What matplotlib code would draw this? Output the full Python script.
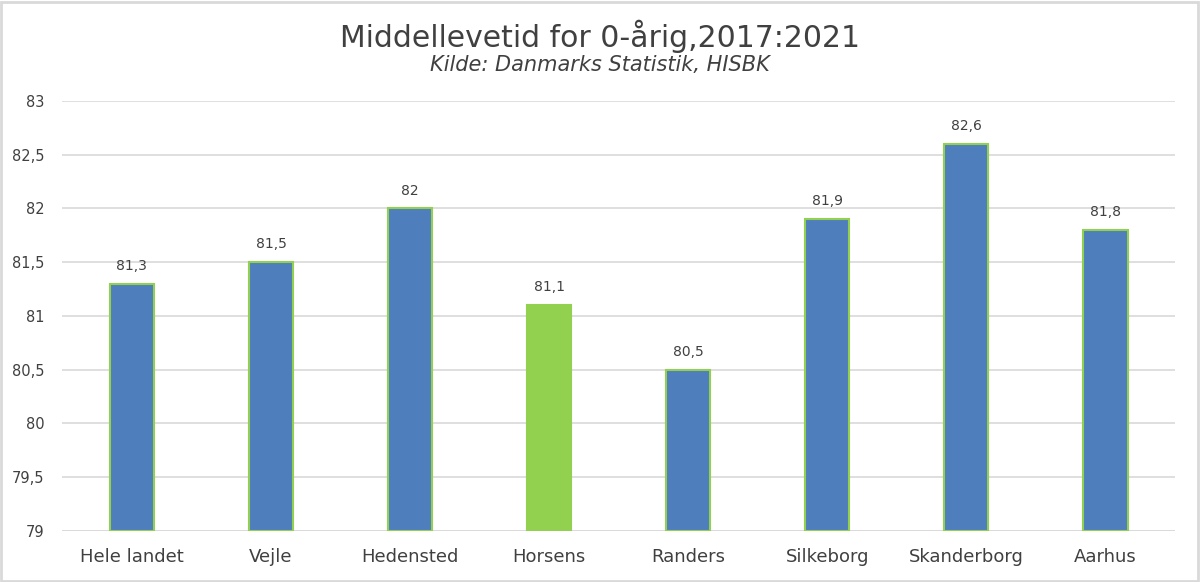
import numpy as np
import matplotlib
matplotlib.use("Agg")
import matplotlib.pyplot as plt
from matplotlib.patches import Rectangle

# data
kommuner = ["Hele landet", "Vejle", "Hedensted", "Horsens", "Randers",
            "Silkeborg", "Skanderborg", "Aarhus"]
levetid = [81.3, 81.5, 82.0, 81.1, 80.5, 81.9, 82.6, 81.8]
yticks = [79, 79.5, 80, 80.5, 81, 81.5, 82, 82.5, 83]

blue = "#4F7EBD"
green = "#92D050"
txt = "#404040"

fig = plt.figure(figsize=(12, 5.82), dpi=100)
ax = fig.add_axes([0.052, 0.0876, 0.927, 0.739])

x = np.arange(len(kommuner))
colors = [green if k == "Horsens" else blue for k in kommuner]
bars = ax.bar(x, [v - 79 for v in levetid], bottom=79, width=0.32,
              color=colors, edgecolor=green, linewidth=1.5, zorder=3)

for xi, v in zip(x, levetid):
    lab = ("%g" % v).replace(".", ",")
    ax.text(xi, v + 0.1, lab, ha="center", va="bottom", fontsize=10, color=txt)

ax.set_xlim(-0.5, len(kommuner) - 0.5)
ax.set_ylim(79, 83)
ax.set_yticks(yticks)
ax.set_yticklabels([("%g" % t).replace(".", ",") for t in yticks])
ax.set_xticks(x)
ax.set_xticklabels(kommuner)
ax.tick_params(axis="both", length=0, colors=txt)
ax.tick_params(axis="x", pad=12, labelsize=13)
ax.tick_params(axis="y", pad=13, labelsize=10.5)
ax.grid(axis="y", color="#d9d9d9", linewidth=1.2, zorder=0)
for s in ax.spines.values():
    s.set_visible(False)
ax.axhline(79, color="#d9d9d9", linewidth=1.2, zorder=1)

fig.text(0.5, 0.937, "Middellevetid for 0-årig,2017:2021", ha="center",
         va="center", fontsize=21.5, color=txt)
fig.text(0.5, 0.888, "Kilde: Danmarks Statistik, HISBK", ha="center",
         va="center", fontsize=15, style="italic", color=txt)

fig.patches.append(Rectangle((0.001, 0.002), 0.997, 0.995, transform=fig.transFigure,
                             fill=False, edgecolor="#d9d9d9", linewidth=2))

fig.savefig("out.png", dpi=100)
